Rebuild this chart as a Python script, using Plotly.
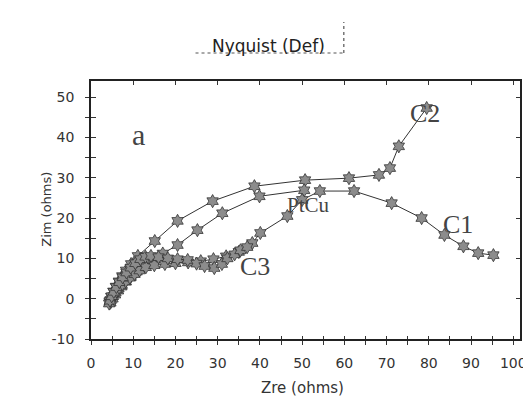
import plotly.graph_objects as go

# ---- data ----
c2_x = [4.4, 4.8, 5.3, 5.9, 6.6, 7.4, 8.3, 9.5, 11.1, 15.1, 20.5, 28.8, 38.7, 50.7, 61.1, 68.2, 70.8, 72.9, 79.5]
c2_y = [-0.8, 0.5, 1.8, 3.0, 4.3, 5.6, 7.0, 8.6, 10.6, 14.3, 19.3, 24.2, 27.9, 29.4, 29.9, 30.7, 32.4, 37.8, 47.3]

ptcu_x = [4.6, 5.1, 5.7, 6.4, 7.2, 8.2, 9.4, 10.8, 12.5, 14.5, 17.0, 20.5, 25.2, 31.1, 39.9, 50.5]
ptcu_y = [-1.0, 0.0, 1.0, 2.0, 3.0, 4.2, 5.4, 6.7, 8.0, 9.5, 11.2, 13.3, 17.0, 21.2, 25.4, 26.9]

c1_x = [4.3, 4.7, 5.2, 5.8, 6.5, 7.3, 8.2, 9.2, 10.3, 11.5, 13.0, 15.0, 17.5, 20.0, 23.0, 26.0, 29.0,
        32.0, 35.0, 38.2, 40.1, 46.5, 50.0, 54.2, 62.3, 71.2, 78.3, 83.7, 88.2, 91.7, 95.3]
c1_y = [-1.2, -0.3, 0.6, 1.5, 2.5, 3.4, 4.3, 5.2, 6.1, 7.0, 7.8, 8.3, 8.6, 8.8, 9.0, 9.3, 9.8,
        10.5, 11.6, 13.8, 16.3, 20.5, 24.5, 26.7, 26.7, 23.7, 20.0, 15.8, 13.0, 11.3, 10.8]

c3_x = [4.5, 4.9, 5.4, 6.0, 6.7, 7.5, 8.4, 9.4, 10.5, 11.7, 12.9, 14.2, 16.0, 18.2, 20.5, 22.9, 25.0,
        26.9, 29.2, 31.0, 32.3, 34.0, 35.4, 37.0]
c3_y = [-0.5, 0.6, 1.7, 2.9, 4.1, 5.3, 6.5, 7.7, 8.8, 9.8, 10.4, 10.6, 10.3, 10.0, 9.8, 9.6, 8.7,
        8.1, 7.6, 8.6, 10.0, 11.0, 12.0, 12.8]

x_ticks = [0, 10, 20, 30, 40, 50, 60, 70, 80, 90, 100]
y_ticks = [-10, 0, 10, 20, 30, 40, 50]
y_tick_text = ["-10", "0", "10", "20", "30", "40", "50"]

labels = ["a", "C2", "C1", "C3", "PtCu"]
label_x = [11.3, 79.0, 86.8, 38.9, 51.4]
label_y = [40.8, 46.0, 18.3, 7.9, 23.2]
label_size = [30, 26, 26, 26, 21]

# ---- figure ----
fig = go.Figure()
marker = dict(symbol="hexagram", size=10, color="#8c8c8c", line=dict(color="#333333", width=0.8))
line = dict(color="#333333", width=1)
for name, xs, ys in [("C2", c2_x, c2_y), ("PtCu", ptcu_x, ptcu_y), ("C1", c1_x, c1_y), ("C3", c3_x, c3_y)]:
    fig.add_trace(go.Scatter(x=xs, y=ys, mode="lines+markers", name=name, marker=marker, line=line,
                             showlegend=False, hoverinfo="skip"))

# dummy traces so overlay axes get drawn
fig.add_trace(go.Scatter(x=[None], y=[None], xaxis="x2", yaxis="y2", showlegend=False))
fig.add_trace(go.Scatter(x=[None], y=[None], xaxis="x3", yaxis="y3", showlegend=False))

for t, lx, ly, s in zip(labels, label_x, label_y, label_size):
    fig.add_annotation(x=lx, y=ly, text=t, showarrow=False, xref="x", yref="y",
                       font=dict(family="Liberation Serif", size=s, color="#444444"))

tickfont = dict(family="DejaVu Sans", size=14, color="#333333")
XR = [0, 101.6]
YR = [-10, 54]

fig.update_layout(
    width=531, height=405,
    margin=dict(l=83, r=17, t=73, b=74),
    paper_bgcolor="white", plot_bgcolor="white",
    xaxis=dict(range=XR, tickvals=x_ticks, ticks="outside", ticklen=4, tickcolor="#333",
               minor=dict(dtick=5, ticks="outside", ticklen=4, tickcolor="#333"),
               showline=True, linecolor="#222", linewidth=1.5, mirror=True,
               showgrid=False, zeroline=False, tickfont=tickfont, ticklabelstandoff=6),
    xaxis2=dict(range=XR, overlaying="x", anchor="y2", side="bottom", tickvals=x_ticks,
                ticks="inside", ticklen=3, tickcolor="#333",
                minor=dict(dtick=5, ticks="inside", ticklen=3, tickcolor="#333"),
                showticklabels=False, showgrid=False, zeroline=False, showline=False),
    xaxis3=dict(range=XR, overlaying="x", anchor="y3", side="top", tickvals=x_ticks,
                ticks="inside", ticklen=4, tickcolor="#333",
                showticklabels=False, showgrid=False, zeroline=False, showline=False),
    yaxis=dict(range=YR, tickvals=y_ticks, ticktext=y_tick_text, ticks="outside", ticklen=4,
               tickcolor="#333", minor=dict(dtick=5, ticks="outside", ticklen=4, tickcolor="#333"),
               showline=True, linecolor="#222", linewidth=1.5, mirror=True,
               showgrid=False, zeroline=False, tickfont=tickfont, ticklabelstandoff=8),
    yaxis2=dict(range=YR, overlaying="y", anchor="x2", side="left", tickvals=y_ticks,
                ticks="inside", ticklen=5, tickcolor="#333",
                minor=dict(dtick=5, ticks="inside", ticklen=5, tickcolor="#333"),
                showticklabels=False, showgrid=False, zeroline=False, showline=False),
    yaxis3=dict(range=YR, overlaying="y", anchor="x3", side="right", tickvals=y_ticks,
                ticks="inside", ticklen=4, tickcolor="#333",
                showticklabels=False, showgrid=False, zeroline=False, showline=False),
)

# title and axis titles
fig.add_annotation(text="Nyquist (Def)", xref="paper", yref="paper", x=(261 - 83) / 431,
                   y=1 + (73 - 26) / 258, showarrow=False,
                   font=dict(family="DejaVu Sans", size=17, color="#222"))
fig.add_shape(type="line", xref="paper", yref="paper", x0=(188 - 83) / 431, x1=(337 - 83) / 431,
              y0=1 + (73 - 45) / 258, y1=1 + (73 - 45) / 258, line=dict(color="#555", width=1.2, dash="dot"))
fig.add_shape(type="line", xref="paper", yref="paper", x0=(337 - 83) / 431, x1=(337 - 83) / 431,
              y0=1 + (73 - 45) / 258, y1=1 + (73 - 14) / 258, line=dict(color="#555", width=1.2, dash="dot"))
fig.add_annotation(text="Zre (ohms)", xref="paper", yref="paper", x=(295 - 83) / 431,
                   y=-(391 - 331) / 258, showarrow=False,
                   font=dict(family="DejaVu Sans", size=15, color="#333"))
fig.add_annotation(text="Zim (ohms)", xref="paper", yref="paper", x=-(83 - 28) / 431,
                   y=(331 - 201) / 258, showarrow=False, textangle=-90,
                   font=dict(family="DejaVu Sans", size=13, color="#333"))

fig.write_html("out.html")
